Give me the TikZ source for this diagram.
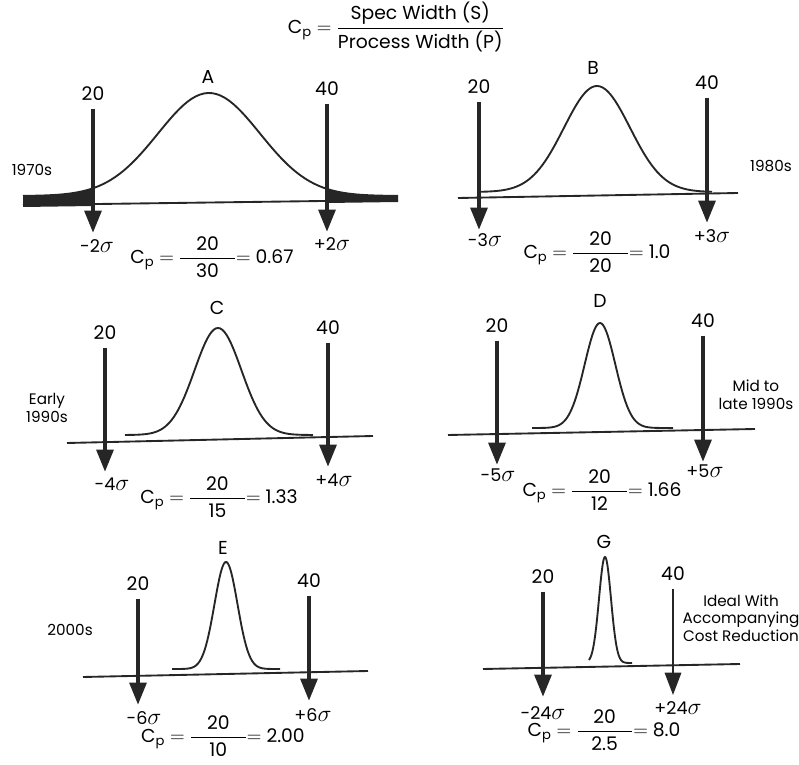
\documentclass[tikz,border=0pt]{standalone}
\usepackage{fontspec}
\setmainfont{Poppins}
\usepackage{amsmath}
\usepackage{xcolor}
\usetikzlibrary{arrows.meta, positioning}

\begin{document}
\begin{tikzpicture}[
  x=0.03cm, y=-0.03cm,
  declare function={bell(\t,\m,\s,\b,\h)=\b-\h*exp(-0.5*((\t-\m)/\s)*((\t-\m)/\s));},
  numlbl/.style={font=\fontsize{16}{18}\selectfont},
  siglbl/.style={font=\fontsize{15}{17}\selectfont},
  eralbl/.style={font=\fontsize{13}{15}\selectfont, align=center},
  cplbl/.style={font=\fontsize{16}{18}\selectfont},
  specarrow/.style={-{Triangle[width=14pt,length=19pt]}, line width=3.8pt, draw=black!85, shorten <=3pt},
  thinarrow/.style={specarrow, line width=1.6pt},
  axisline/.style={line width=1.6pt, draw=black!85},
  bellcurve/.style={line width=1.6pt, draw=black!85, samples=90},
  tailfill/.style={fill=black!85}
]
\useasboundingbox (0,0) rectangle (799,765);

\node[cplbl] (title) at (396,27) {C\textsubscript{p} $=$ $\dfrac{\text{Spec Width (S)}}{\text{Process Width (P)}}$};

\fill[tailfill] (23,207) -- plot[domain=23:93] (\x,{bell(\x,209,51,196,103)}) -- (93,206) -- cycle;
\fill[tailfill] (327,203) -- plot[domain=327:398] (\x,{bell(\x,209,51,196,103)}) -- (398,202) -- cycle;
\draw[axisline] (23,205) -- (398,200);
\draw[bellcurve] plot[domain=23:398] (\x,{bell(\x,209,51,196,103)});
\node[numlbl] (alet) at (208,77) {A};
\node[numlbl] (a20) at (93,94) {20};
\node[numlbl] (a40) at (327,89) {40};
\node[siglbl] (asigl) at (97,246) {-2\scalebox{1.4}{$\sigma$}};
\node[siglbl] (asigr) at (332,244) {+2\scalebox{1.4}{$\sigma$}};
\node[eralbl] (aera) at (32,170) {1970s};
\coordinate (atipl) at (93,233);
\coordinate (atipr) at (327,232);
\draw[specarrow] (a20) -- (atipl);
\draw[specarrow] (a40) -- (atipr);
\node[cplbl] (acp) at (212,257) {C\textsubscript{p} $=$ $\dfrac{\makebox[2.9em]{20}}{\text{30}}$$=$ 0.67};

\draw[axisline] (458,198) -- (738,193);
\draw[bellcurve] plot[domain=480:712] (\x,{bell(\x,597,33,192,106)});
\node[numlbl] (blet) at (593,68) {B};
\node[numlbl] (b20) at (479,87) {20};
\node[numlbl] (b40) at (707,83) {40};
\node[siglbl] (bsigl) at (485,240) {-3\scalebox{1.4}{$\sigma$}};
\node[siglbl] (bsigr) at (712,236) {+3\scalebox{1.4}{$\sigma$}};
\node[eralbl] (bera) at (771,166) {1980s};
\coordinate (btipl) at (479,230);
\coordinate (btipr) at (707,223);
\draw[specarrow] (b20) -- (btipl);
\draw[specarrow] (b40) -- (btipr);
\node[cplbl] (bcp) at (597,252) {C\textsubscript{p} $=$ $\dfrac{\makebox[2.9em]{20}}{\text{20}}$$=$ 1.0};

\draw[axisline] (67,443) -- (373,436);
\draw[bellcurve] plot[domain=125:313] (\x,{bell(\x,218,23.4,435,107)});
\node[numlbl] (clet) at (217,308) {C};
\node[numlbl] (c20) at (105,333) {20};
\node[numlbl] (c40) at (328,328) {40};
\node[siglbl] (csigl) at (112,484) {-4\scalebox{1.4}{$\sigma$}};
\node[siglbl] (csigr) at (334,480) {+4\scalebox{1.4}{$\sigma$}};
\node[eralbl] (cera) at (47,408) {Early\\1990s};
\coordinate (ctipl) at (105,472);
\coordinate (ctipr) at (328,467);
\draw[specarrow] (c20) -- (ctipl);
\draw[specarrow] (c40) -- (ctipr);
\node[cplbl] (ccp) at (219,497) {C\textsubscript{p} $=$ $\dfrac{\makebox[2.9em]{20}}{\text{15}}$$=$ 1.33};

\draw[axisline] (448,435) -- (755,429);
\draw[bellcurve] plot[domain=532:673] (\x,{bell(\x,600,15.3,428,105)});
\node[numlbl] (dlet) at (600,301) {D};
\node[numlbl] (d20) at (497,326) {20};
\node[numlbl] (d40) at (703,321) {40};
\node[siglbl] (dsigl) at (498,475) {-5\scalebox{1.4}{$\sigma$}};
\node[siglbl] (dsigr) at (705,471) {+5\scalebox{1.4}{$\sigma$}};
\node[eralbl] (dera) at (756,395) {Mid to\\late 1990s};
\coordinate (dtipl) at (497,465);
\coordinate (dtipr) at (703,462);
\draw[specarrow] (d20) -- (dtipl);
\draw[specarrow] (d40) -- (dtipr);
\node[cplbl] (dcp) at (602,490) {C\textsubscript{p} $=$ $\dfrac{\makebox[2.9em]{20}}{\text{12}}$$=$ 1.66};

\draw[axisline] (83,677) -- (368,671);
\draw[bellcurve] plot[domain=172:280] (\x,{bell(\x,226,11.5,669,107)});
\node[numlbl] (elet) at (223,548) {E};
\node[numlbl] (e20) at (138,584) {20};
\node[numlbl] (e40) at (309,581) {40};
\node[siglbl] (esigl) at (144,718) {-6\scalebox{1.4}{$\sigma$}};
\node[siglbl] (esigr) at (313,715) {+6\scalebox{1.4}{$\sigma$}};
\node[eralbl] (eera) at (70,630) {2000s};
\coordinate (etipl) at (138,705);
\coordinate (etipr) at (309,701);
\draw[specarrow] (e20) -- (etipl);
\draw[specarrow] (e40) -- (etipr);
\node[cplbl] (ecp) at (223,736) {C\textsubscript{p} $=$ $\dfrac{\makebox[2.9em]{20}}{\text{10}}$$=$ 2.00};

\draw[axisline] (483,669) -- (740,664);
\draw[bellcurve] plot[domain=589:632] (\x,{bell(\x,605,6,663,106)});
\node[numlbl] (glet) at (604,542) {G};
\node[numlbl] (g20) at (543,577) {20};
\node[numlbl] (g40) at (673,574) {40};
\node[siglbl] (gsigl) at (543,713) {-24\scalebox{1.4}{$\sigma$}};
\node[siglbl] (gsigr) at (678,708) {+24\scalebox{1.4}{$\sigma$}};
\node[eralbl] (gera) at (741,618) {Ideal With\\Accompanying\\Cost Reduction};
\coordinate (gtipl) at (543,697);
\coordinate (gtipr) at (673,695);
\draw[specarrow] (g20) -- (gtipl);
\draw[thinarrow] (g40) -- (gtipr);
\node[cplbl] (gcp) at (604,730) {C\textsubscript{p} $=$ $\dfrac{\makebox[2.9em]{20}}{\text{2.5}}$$=$ 8.0};
\end{tikzpicture}
\end{document}
